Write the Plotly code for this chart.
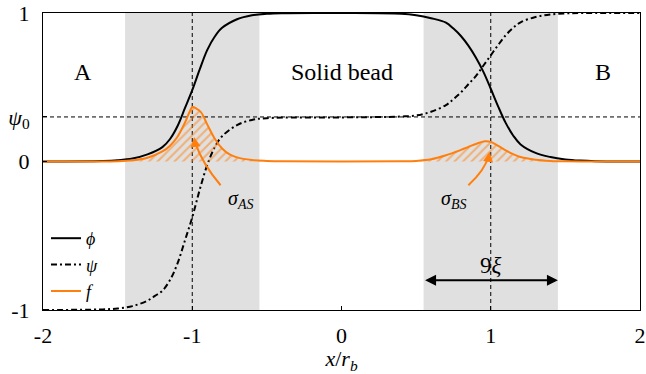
import plotly.graph_objects as go

# ---- data ----
phi_x = [-2.0, -1.6, -1.5, -1.4, -1.3, -1.2, -1.15, -1.1, -1.05, -1.0, -0.95, -0.9, -0.85, -0.8, -0.7, -0.6, -0.5, -0.4,
         0.0, 0.4, 0.5, 0.6, 0.7, 0.75, 0.8, 0.85, 0.9, 0.95, 1.0, 1.05, 1.1, 1.15, 1.2, 1.3, 1.4, 1.5, 1.6, 1.7, 2.0]
phi_y = [0.0, 0.003, 0.008, 0.02, 0.048, 0.097, 0.15, 0.236, 0.357, 0.48, 0.62, 0.75, 0.84, 0.9, 0.958, 0.985, 0.995, 0.999,
         1.0, 0.995, 0.985, 0.965, 0.935, 0.895, 0.845, 0.78, 0.70, 0.605, 0.49, 0.37, 0.26, 0.175, 0.115, 0.058, 0.03, 0.014, 0.006, 0.002, 0.0]

psi_x = [-2.0, -1.6, -1.5, -1.4, -1.3, -1.25, -1.2, -1.15, -1.1, -1.05, -1.0, -0.95, -0.9, -0.85, -0.8, -0.7, -0.6, -0.5,
         0.0, 0.3, 0.4, 0.5, 0.6, 0.7, 0.75, 0.8, 0.85, 0.9, 0.95, 1.0, 1.05, 1.1, 1.15, 1.2, 1.3, 1.4, 1.5, 1.6, 2.0]
psi_y = [-1.0, -0.996, -0.99, -0.974, -0.937, -0.905, -0.87, -0.80, -0.69, -0.535, -0.376, -0.19, -0.025, 0.095, 0.17, 0.245, 0.28, 0.292,
         0.297, 0.30, 0.303, 0.31, 0.335, 0.38, 0.42, 0.465, 0.52, 0.575, 0.645, 0.715, 0.785, 0.85, 0.9, 0.937, 0.973, 0.99, 0.997, 1.0, 1.0]

f_x = [-2.0, -1.5, -1.4, -1.3, -1.2, -1.15, -1.1, -1.05, -1.02, -1.0, -0.97, -0.94, -0.9, -0.85, -0.8, -0.75, -0.7, -0.6, -0.5, -0.4,
       0.4, 0.5, 0.6, 0.7, 0.8, 0.85, 0.9, 0.96, 1.0, 1.05, 1.1, 1.15, 1.2, 1.3, 1.4, 1.5, 2.0]
f_y = [0.0, 0.002, 0.008, 0.025, 0.068, 0.105, 0.165, 0.26, 0.33, 0.366, 0.355, 0.33, 0.25, 0.155, 0.088, 0.048, 0.028, 0.01, 0.004, 0.001,
       0.001, 0.004, 0.015, 0.042, 0.078, 0.098, 0.118, 0.136, 0.132, 0.105, 0.075, 0.05, 0.03, 0.012, 0.004, 0.001, 0.0]

psi0 = 0.3
x_ticks = [-2, -1, 0, 1, 2]
x_ticktext = ["-2", "-1", "0", "1", "2"]
y_ticks = [-1, 0, psi0, 1]
y_ticktext = ["-1", "0", "<i>ψ</i><sub>0</sub>", "1"]
shade_regions = [(-1.45, -0.55), (0.55, 1.45)]
region_labels = [(-1.73, 0.6, "A"), (0.0, 0.6, "Solid bead"), (1.75, 0.6, "B")]

ORANGE = "#ff7f0e"
FONT = "'Liberation Serif', 'DejaVu Serif', serif"

fig = go.Figure()

fig.add_trace(go.Scatter(x=phi_x, y=phi_y, mode="lines", name="<i>ϕ</i>",
                         line=dict(color="black", width=2, shape="spline")))
fig.add_trace(go.Scatter(x=psi_x, y=psi_y, mode="lines", name="<i>ψ</i>",
                         line=dict(color="black", width=2, shape="spline", dash="6px,3px,2px,3px")))
# hatched area under f (no legend entry)
fig.add_trace(go.Scatter(x=f_x, y=f_y, mode="lines", showlegend=False, hoverinfo="skip",
                         line=dict(color="rgba(0,0,0,0)", width=0, shape="spline"),
                         fill="tozeroy", fillcolor="rgba(0,0,0,0)",
                         fillpattern=dict(shape="/", fgcolor=ORANGE, bgcolor="rgba(0,0,0,0)", size=6, solidity=0.35)))
fig.add_trace(go.Scatter(x=f_x, y=f_y, mode="lines", name="<i>f</i>",
                         line=dict(color=ORANGE, width=2, shape="spline")))

shapes = []
for a, b in shade_regions:
    shapes.append(dict(type="rect", xref="x", yref="y", x0=a, x1=b, y0=-1, y1=1,
                       fillcolor="#e0e0e0", line=dict(width=0), layer="below"))
shapes.append(dict(type="line", xref="x", yref="y", x0=-2, x1=2, y0=psi0, y1=psi0,
                   line=dict(color="black", width=1, dash="4px,3px"), layer="below"))
for xv in [-1, 1]:
    shapes.append(dict(type="line", xref="x", yref="y", x0=xv, x1=xv, y0=-1, y1=1,
                       line=dict(color="black", width=1, dash="4px,3px"), layer="below"))
# curved arrows
shapes.append(dict(type="path", xref="x", yref="y", path="M -0.81,-0.16 Q -0.93,-0.02 -0.982,0.13",
                   line=dict(color=ORANGE, width=2), layer="above"))
shapes.append(dict(type="path", xref="x", yref="y", path="M 0.85,-0.16 Q 0.96,-0.06 0.987,0.04",
                   line=dict(color=ORANGE, width=2), layer="above"))

annotations = []
for xv, yv, t in region_labels:
    annotations.append(dict(x=xv, y=yv, xref="x", yref="y", text=t, showarrow=False,
                            font=dict(family=FONT, size=24, color="black")))
annotations.append(dict(x=-0.988, y=0.165, ax=-0.978, ay=0.10, xref="x", yref="y", axref="x", ayref="y",
                        text="", showarrow=True, arrowhead=2, arrowsize=1, arrowwidth=2, arrowcolor=ORANGE))
annotations.append(dict(x=0.992, y=0.065, ax=0.984, ay=0.01, xref="x", yref="y", axref="x", ayref="y",
                        text="", showarrow=True, arrowhead=2, arrowsize=1, arrowwidth=2, arrowcolor=ORANGE))
annotations.append(dict(x=-0.68, y=-0.255, xref="x", yref="y", text="<i>σ</i><sub><i>AS</i></sub>",
                        showarrow=False, font=dict(family=FONT, size=20, color="black")))
annotations.append(dict(x=0.75, y=-0.255, xref="x", yref="y", text="<i>σ</i><sub><i>BS</i></sub>",
                        showarrow=False, font=dict(family=FONT, size=20, color="black")))
annotations.append(dict(x=1.45, y=-0.8, ax=0.55, ay=-0.8, xref="x", yref="y", axref="x", ayref="y",
                        text="", showarrow=True, arrowhead=2, startarrowhead=2, arrowside="end+start",
                        arrowsize=1.1, arrowwidth=2, arrowcolor="black"))
annotations.append(dict(x=1.0, y=-0.7, xref="x", yref="y", text="9<i>ξ</i>", showarrow=False,
                        font=dict(family=FONT, size=23, color="black")))

fig.update_layout(
    width=646, height=374,
    margin=dict(l=43, r=6, t=13, b=64, autoexpand=False),
    paper_bgcolor="white", plot_bgcolor="white",
    font=dict(family=FONT, size=22, color="black"),
    shapes=shapes, annotations=annotations,
    showlegend=True,
    legend=dict(x=0.005, y=0.0, xanchor="left", yanchor="bottom", bgcolor="rgba(0,0,0,0)",
                font=dict(family=FONT, size=18), tracegroupgap=0, itemwidth=30),
    xaxis=dict(range=[-2, 2], tickvals=x_ticks, ticktext=x_ticktext, showgrid=False, zeroline=False,
               showline=True, linecolor="black", linewidth=1, mirror=True, automargin=False,
               ticks="inside", ticklen=4, tickcolor="black", ticklabelstandoff=6,
               title=dict(text="<i>x</i>/<i>r</i><sub><i>b</i></sub>", standoff=0, font=dict(size=22))),
    yaxis=dict(range=[-1, 1], tickvals=y_ticks, ticktext=y_ticktext, showgrid=False, zeroline=False,
               showline=True, linecolor="black", linewidth=1, mirror=True, automargin=False,
               ticks="inside", ticklen=4, tickcolor="black", ticklabelstandoff=8),
)

fig.write_html("out.html", config={"displayModeBar": False},
               post_script="document.body.style.margin='0';document.body.style.overflow='hidden';")
